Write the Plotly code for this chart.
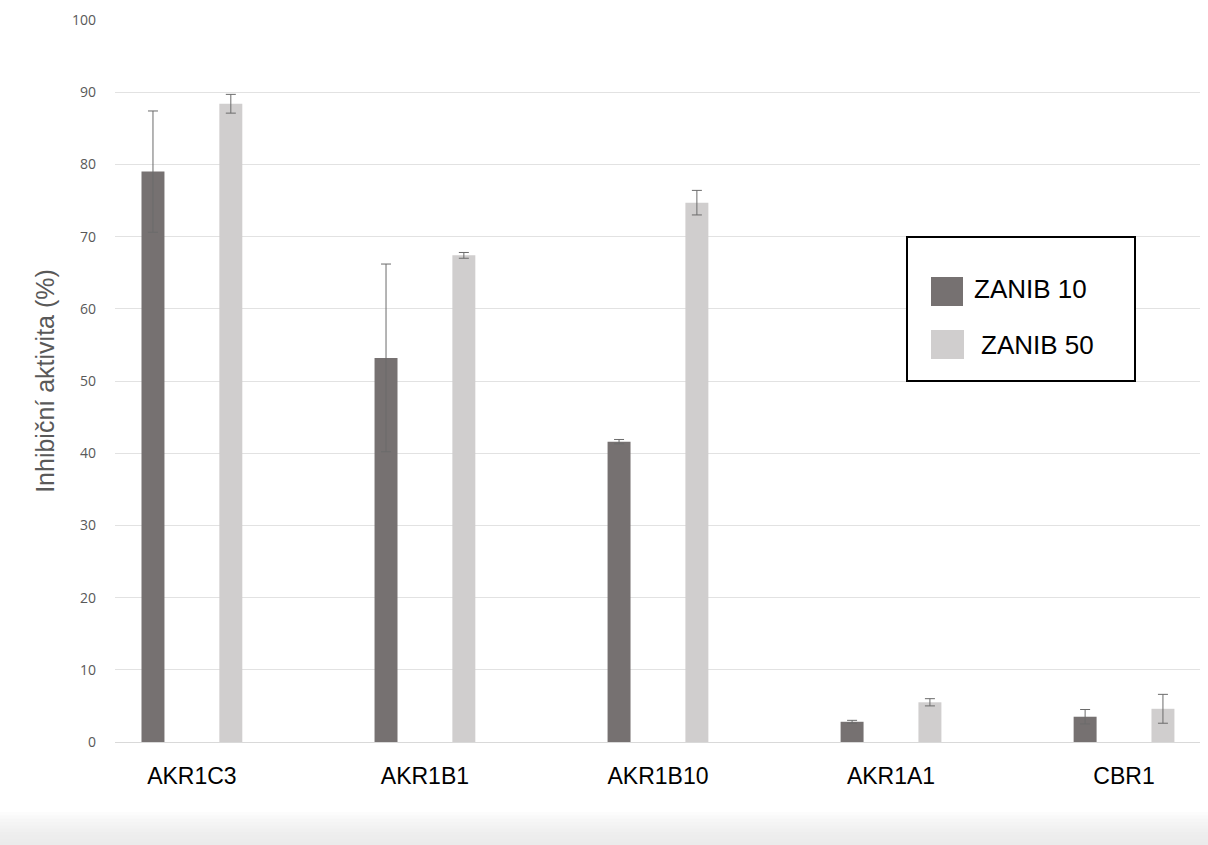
import plotly.graph_objects as go

# Enzymes tested
categories = ["AKR1C3", "AKR1B1", "AKR1B10", "AKR1A1", "CBR1"]

# Inhibition (%) at 10 µM zanubrutinib, with standard deviations
zanib10 = [79.0, 53.2, 41.6, 2.8, 3.5]
zanib10_err = [8.4, 13.0, 0.3, 0.2, 1.0]

# Inhibition (%) at 50 µM zanubrutinib, with standard deviations
zanib50 = [88.4, 67.4, 74.7, 5.5, 4.6]
zanib50_err = [1.3, 0.4, 1.7, 0.5, 2.0]

series_names = ["ZANIB 10", "ZANIB 50"]
series_colors = ["#767171", "#d0cece"]

y_ticks = list(range(0, 101, 10))

W, H = 1208, 845
ML, MR, MT, MB = 115, 8, 20, 103
PW, PH = W - ML - MR, H - MT - MB


def px_x(p):
    return (p - ML) / PW


def px_y(p):
    return (H - MB - p) / PH


err_style = dict(type="data", thickness=1, width=5, color="#6b6b6b")

fig = go.Figure()
for name, color, vals, errs in [
    (series_names[0], series_colors[0], zanib10, zanib10_err),
    (series_names[1], series_colors[1], zanib50, zanib50_err),
]:
    fig.add_trace(go.Bar(
        x=categories, y=vals, name=name,
        marker=dict(color=color, line=dict(width=0)),
        error_y=dict(array=errs, **err_style),
        showlegend=False,
    ))

fig.update_layout(
    width=W, height=H,
    margin=dict(l=ML, r=MR, t=MT, b=MB),
    paper_bgcolor="white", plot_bgcolor="white",
    barmode="group", bargap=0.332, bargroupgap=0.705,
    font=dict(family="Liberation Sans, Arial, sans-serif", color="#000000"),
)

fig.update_xaxes(
    type="category",
    range=[-0.330, 4.326],
    showgrid=False, showline=False, zeroline=False,
    ticks="", ticklabelstandoff=18,
    tickfont=dict(family="Liberation Sans, Arial, sans-serif", size=23, color="#000000"),
)
fig.update_yaxes(
    range=[0, 100],
    tickvals=y_ticks,
    showgrid=True, gridcolor="#e2e2e2", gridwidth=1,
    zeroline=True, zerolinecolor="#d9d9d9", zerolinewidth=1,
    showline=False, ticks="", ticklabelstandoff=18,
    tickfont=dict(family="Open Sans, sans-serif", size=14, color="#595959"),
    title=dict(
        text="Inhibiční aktivita (%)",
        font=dict(family="Liberation Sans, Arial, sans-serif", size=25, color="#595959"),
        standoff=10,
    ),
)

# Legend box with swatches and labels
shapes = [
    dict(type="rect", xref="paper", yref="paper",
         x0=px_x(907), x1=px_x(1135), y0=px_y(381), y1=px_y(237),
         line=dict(color="#000000", width=2), fillcolor="white", layer="above"),
    dict(type="rect", xref="paper", yref="paper",
         x0=px_x(931), x1=px_x(963), y0=px_y(306), y1=px_y(277),
         line=dict(width=0), fillcolor=series_colors[0], layer="above"),
    dict(type="rect", xref="paper", yref="paper",
         x0=px_x(931), x1=px_x(964), y0=px_y(359), y1=px_y(330),
         line=dict(width=0), fillcolor=series_colors[1], layer="above"),
]

# Soft grey shading along the bottom edge of the page
n_bands = 10
for i in range(n_bands):
    top = 812 + i * (H - 812) / n_bands
    shapes.append(dict(
        type="rect", xref="paper", yref="paper",
        x0=-ML / PW, x1=(W - ML) / PW, y0=px_y(H), y1=px_y(top),
        line=dict(width=0), fillcolor="#e6e6e6", opacity=0.12, layer="below",
    ))

annotations = [
    dict(xref="paper", yref="paper", x=px_x(972), y=px_y(289),
         text=series_names[0], showarrow=False, xanchor="left", yanchor="middle",
         font=dict(family="Liberation Sans, Arial, sans-serif", size=26, color="#000000")),
    dict(xref="paper", yref="paper", x=px_x(979), y=px_y(345),
         text=series_names[1], showarrow=False, xanchor="left", yanchor="middle",
         font=dict(family="Liberation Sans, Arial, sans-serif", size=26, color="#000000")),
]

fig.update_layout(shapes=shapes, annotations=annotations)

fig.write_html("out.html")
